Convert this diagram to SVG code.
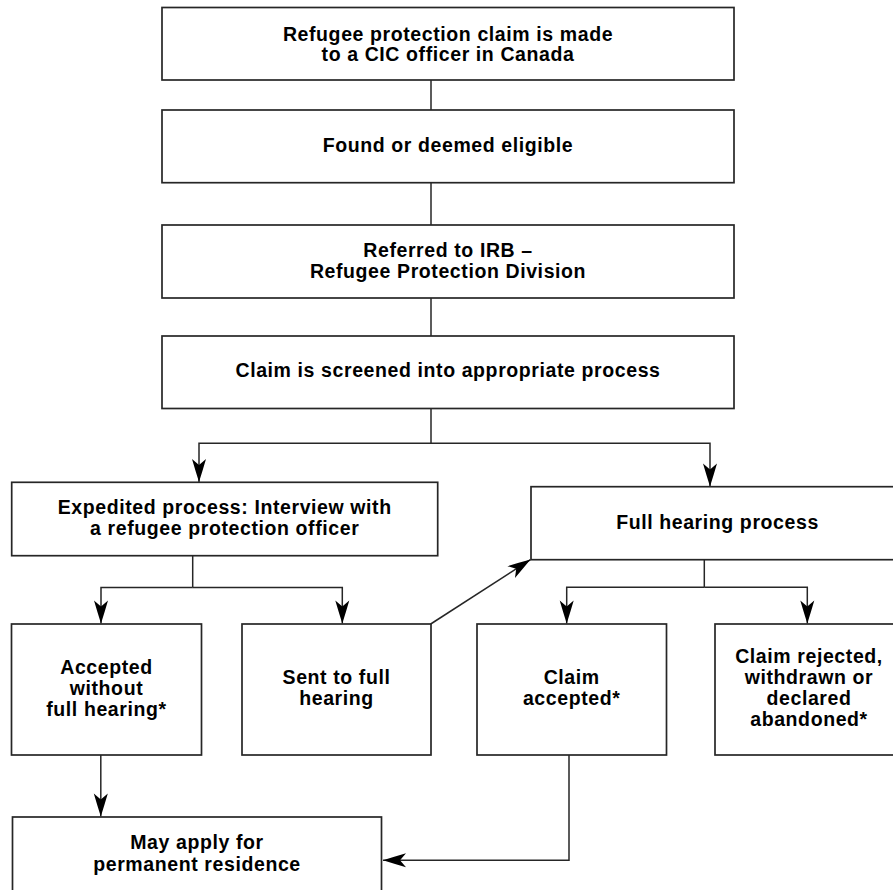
<svg xmlns="http://www.w3.org/2000/svg" width="893" height="890" viewBox="0 0 893 890">
<defs>
<style>
.box{fill:#fff;stroke:#262626;stroke-width:1.7}
.t{font-family:"Liberation Sans",Arial,Helvetica,sans-serif;font-weight:bold;font-size:19.5px;letter-spacing:0.6px;fill:#000;text-anchor:middle}
.c{fill:none;stroke:#262626;stroke-width:1.5}
</style>
<marker id="ah" markerUnits="userSpaceOnUse" viewBox="-24 -8 26 16" refX="0" refY="0" markerWidth="26" markerHeight="16" orient="auto" overflow="visible">
<path d="M0,0 Q-11,-3.5 -23,-7 L-17,0 L-23,7 Q-11,3.5 0,0 Z" fill="#000"/>
</marker>
</defs>
<rect width="893" height="890" fill="#fff"/>
<g id="connectors">
<line class="c" x1="431" y1="80" x2="431" y2="110"/>
<line class="c" x1="431" y1="183" x2="431" y2="225"/>
<line class="c" x1="431" y1="298" x2="431" y2="336"/>
<polyline class="c" points="431,408 431,443.3"/>
<polyline class="c" points="431,443.3 199,443.3 199,482" marker-end="url(#ah)"/>
<polyline class="c" points="431,443.3 710,443.3 710,486.5" marker-end="url(#ah)"/>
<line class="c" x1="192.7" y1="556" x2="192.7" y2="587.5"/>
<polyline class="c" points="192.7,587.5 101,587.5 101,623.5" marker-end="url(#ah)"/>
<polyline class="c" points="192.7,587.5 342.3,587.5 342.3,623.5" marker-end="url(#ah)"/>
<line class="c" x1="430.7" y1="624" x2="530.5" y2="559.6" marker-end="url(#ah)"/>
<line class="c" x1="704.3" y1="560" x2="704.3" y2="587.3"/>
<polyline class="c" points="704.3,587.3 566.7,587.3 566.7,623.5" marker-end="url(#ah)"/>
<polyline class="c" points="704.3,587.3 807.3,587.3 807.3,623.5" marker-end="url(#ah)"/>
<line class="c" x1="100.8" y1="755" x2="100.8" y2="816.5" marker-end="url(#ah)"/>
<polyline class="c" points="569,755 569,860.3 383,860.3" marker-end="url(#ah)"/>
</g>
<g id="n1"><rect class="box" x="162" y="7.5" width="572" height="72.5"/>
<text class="t" x="448" y="40.5">Refugee protection claim is made</text>
<text class="t" x="448" y="60.5">to a CIC officer in Canada</text></g>
<g id="n2"><rect class="box" x="162" y="110" width="572" height="72.7"/>
<text class="t" x="448" y="151.7">Found or deemed eligible</text></g>
<g id="n3"><rect class="box" x="162" y="225" width="572" height="73"/>
<text class="t" x="448" y="256.5">Referred to IRB –</text>
<text class="t" x="448" y="277.5">Refugee Protection Division</text></g>
<g id="n4"><rect class="box" x="162" y="336" width="572" height="72.5"/>
<text class="t" x="448" y="377.3">Claim is screened into appropriate process</text></g>
<g id="n5"><rect class="box" x="11.7" y="482.3" width="426" height="73.4"/>
<text class="t" x="224.7" y="513.5">Expedited process: Interview with</text>
<text class="t" x="224.7" y="535">a refugee protection officer</text></g>
<g id="n6"><rect class="box" x="531" y="486.7" width="373" height="73"/>
<text class="t" x="717.5" y="528.5">Full hearing process</text></g>
<g id="n7"><rect class="box" x="11.5" y="624" width="190" height="131"/>
<text class="t" x="106.5" y="674">Accepted</text>
<text class="t" x="106.5" y="695">without</text>
<text class="t" x="106.5" y="716">full hearing*</text></g>
<g id="n8"><rect class="box" x="242" y="624" width="189" height="131"/>
<text class="t" x="336.5" y="684">Sent to full</text>
<text class="t" x="336.5" y="705">hearing</text></g>
<g id="n9"><rect class="box" x="477" y="624" width="189.5" height="131"/>
<text class="t" x="571.7" y="684">Claim</text>
<text class="t" x="571.7" y="705">accepted*</text></g>
<g id="n10"><rect class="box" x="715" y="624" width="188" height="131"/>
<text class="t" x="809" y="662.7">Claim rejected,</text>
<text class="t" x="809" y="683.5">withdrawn or</text>
<text class="t" x="809" y="705">declared</text>
<text class="t" x="809" y="726">abandoned*</text></g>
<g id="n11"><rect class="box" x="12.5" y="817" width="369" height="85"/>
<text class="t" x="197" y="849.3">May apply for</text>
<text class="t" x="197" y="871">permanent residence</text></g>
</svg>
